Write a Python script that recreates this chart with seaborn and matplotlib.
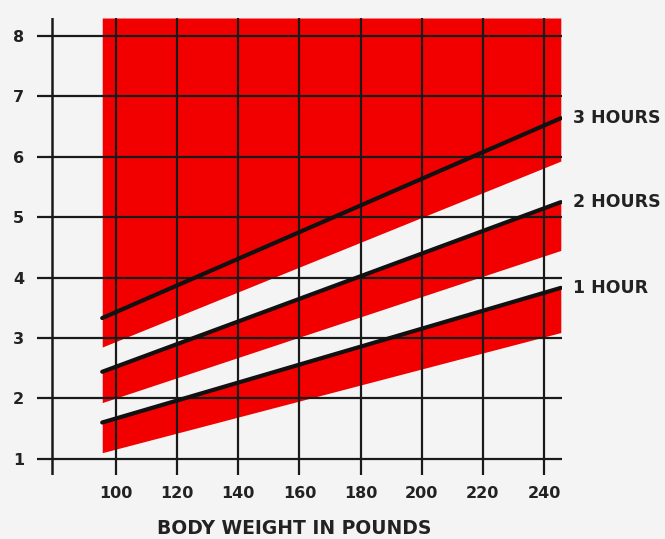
import matplotlib
matplotlib.use('Agg')

import matplotlib.pyplot as plt
import pandas as pd
import seaborn as sns

# body weight (lb) at the two ends of each band
weight = [95.5, 245.5]

# black lines: the upper edge of each band
hours_3 = [3.33, 6.64]
hours_2 = [2.44, 5.25]
hours_1 = [1.60, 3.83]

# lower edges of the red bands
low_3 = [2.85, 5.93]
low_2 = [1.93, 4.45]
low_1 = [1.10, 3.09]
top = 8.3

band_labels = ['3 HOURS', '2 HOURS', '1 HOUR']
x_ticks = [100, 120, 140, 160, 180, 200, 220, 240]
y_ticks = [1, 2, 3, 4, 5, 6, 7, 8]

bg = '#f4f4f4'
red = '#f20000'

sns.set_theme(style='white')
plt.rcParams['font.family'] = ['DejaVu Sans']

df = pd.DataFrame({
    'weight': weight * 3,
    'value': hours_3 + hours_2 + hours_1,
    'band': [b for b in band_labels for _ in weight],
})

fig = plt.figure(figsize=(6.65, 5.39), dpi=100, facecolor=bg)
ax = fig.add_axes([0.0549, 0.1187, 0.7907, 0.8479])
ax.set_facecolor(bg)

ax.fill_between(weight, low_3, [top, top], color=red, lw=0, zorder=1)
ax.fill_between(weight, low_2, hours_2, color=red, lw=0, zorder=1)
ax.fill_between(weight, low_1, hours_1, color=red, lw=0, zorder=1)

sns.lineplot(data=df, x='weight', y='value', hue='band',
             palette=['#111111'] * 3, linewidth=3.0, legend=False,
             ax=ax, zorder=4)

ax.set_xlim(74, 246)
ax.set_ylim(0.73, 8.3)
ax.set_xticks(x_ticks)
ax.set_yticks(y_ticks)
ax.set_axisbelow(False)
ax.grid(True, color='#1a1a1a', linewidth=1.6, zorder=3)
ax.axvline(79, color='#1a1a1a', linewidth=1.8, zorder=3)

for s in ax.spines.values():
    s.set_visible(False)

ax.tick_params(axis='both', length=0, labelsize=11.5, labelcolor='#222222')
ax.tick_params(axis='y', pad=9)
ax.tick_params(axis='x', pad=8)
for lab in ax.get_xticklabels() + ax.get_yticklabels():
    lab.set_fontweight('bold')

for name, vals in zip(band_labels, [hours_3, hours_2, hours_1]):
    ax.text(249.5, vals[-1], name, ha='left', va='center', fontsize=12.5,
            fontweight='bold', color='#222222', clip_on=False)

ax.set_xlabel('BODY WEIGHT IN POUNDS', fontsize=13.5, fontweight='bold',
              color='#222222', labelpad=13, x=0.49)
ax.set_ylabel('')

fig.savefig('out.png', dpi=100, facecolor=bg)
